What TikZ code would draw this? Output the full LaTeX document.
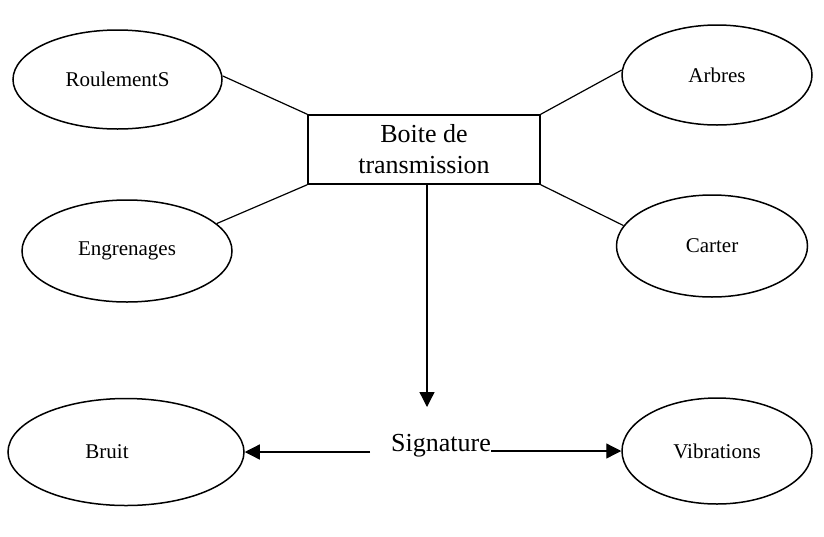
\documentclass[tikz,border=0pt]{standalone}
\usepackage{fontspec}
\setmainfont{Liberation Serif}
\usetikzlibrary{shapes.geometric,arrows.meta}
\begin{document}
\begin{tikzpicture}[x=1pt,y=-1pt,
  part/.style={ellipse,draw,line width=1.5pt,inner sep=0pt,font=\fontsize{21}{25}\selectfont},
  hub/.style={draw,line width=1.5pt,minimum width=232pt,minimum height=69pt,inner sep=0pt,align=center,font=\fontsize{26}{31}\selectfont},
  link/.style={line width=1.2pt},
  flow/.style={line width=1.3pt,-{Triangle[length=15pt,width=15pt]}}]
\useasboundingbox (0,0) rectangle (824,536);
% central gearbox
\node[hub] (box) at (424,149.5) {Boite de\\transmission};
% components
\node[part,minimum width=209pt,minimum height=99pt] (roul) at (117.5,79.5) {RoulementS};
\node[part,minimum width=190pt,minimum height=100pt] (arb) at (717,75) {Arbres};
\node[part,minimum width=210pt,minimum height=102pt] (engr) at (127,251) {Engrenages};
\node[part,minimum width=191pt,minimum height=102pt] (cart) at (712,246) {Carter};
\draw[link] (roul.2.5) -- (box.north west);
\draw[link] (engr.17) -- (box.south west);
\draw[link] (box.north east) -- (arb.177);
\draw[link] (box.south east) -- (cart.167.5);
% signature
\coordinate (tip) at (427,407);
\draw[flow] ([xshift=3pt]box.south) -- (tip);
\node[part,minimum width=236pt,minimum height=107pt] (bruit) at (126,452) {Bruit\hspace*{38pt}};
\node[part,minimum width=190pt,minimum height=106pt] (vib) at (717,451) {Vibrations};
\node[inner sep=0pt,anchor=base,font=\fontsize{26}{31}\selectfont] (sig) at (441,451) {Signature};
\coordinate (sl) at (370,452);
\draw[flow] (sl) -- (bruit.east);
\draw[flow] (sig.base east |- vib.west) -- (vib.west);
\end{tikzpicture}
\end{document}
